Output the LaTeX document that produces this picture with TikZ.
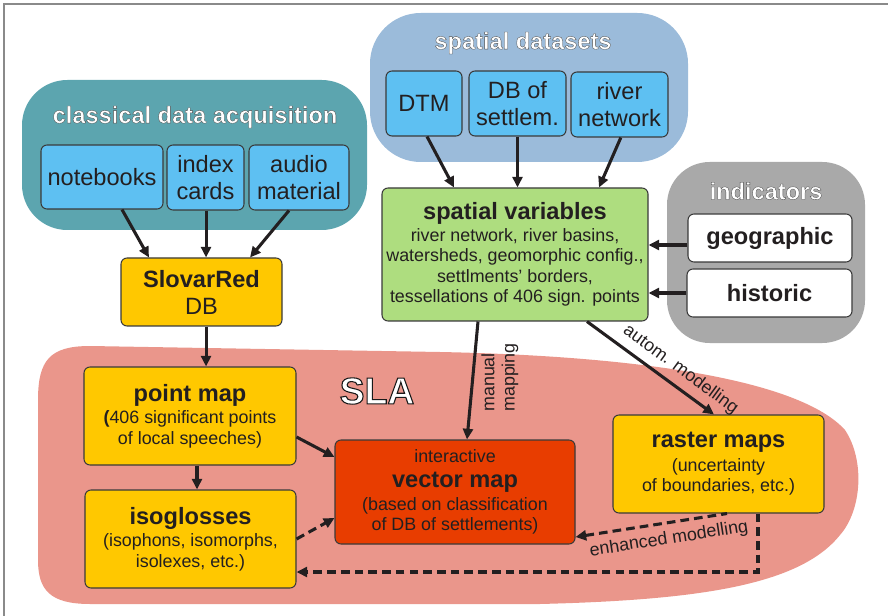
\documentclass[tikz,border=0pt]{standalone}
\usepackage{fontspec}
\setmainfont{Liberation Sans}
\usetikzlibrary{arrows.meta,calc}
\definecolor{tealc}{HTML}{5CA5AF}
\definecolor{skyc}{HTML}{9BBBDA}
\definecolor{grayc}{HTML}{A9A9A9}
\definecolor{pinkc}{HTML}{EA968B}
\definecolor{bluec}{HTML}{5EC0F2}
\definecolor{goldc}{HTML}{FFC800}
\definecolor{greenc}{HTML}{AEDD7F}
\definecolor{redc}{HTML}{E83D00}
\definecolor{bordc}{HTML}{3A3A3A}
\definecolor{arrc}{HTML}{231F20}
\definecolor{txtc}{HTML}{231F20}
\definecolor{framec}{HTML}{8A8A8A}
\newcommand\bigf{\fontsize{17.7}{20.3}\selectfont}
\newcommand\smallf{\fontsize{13.4}{15.2}\selectfont}
\newcommand\outltext[3]{\special{pdf:literal direct 2 Tr #1 w #2 G}#3\special{pdf:literal direct 0 Tr}}
\begin{document}
\begin{tikzpicture}[x=0.75pt,y=-0.75pt,
  box/.style={draw=bordc, line width=0.8pt, rounded corners=4.5pt, inner sep=0pt, align=center, text=txtc},
  sz/.style 2 args={minimum width=#1*0.75pt, minimum height=#2*0.75pt},
  arr/.style={draw=arrc, line width=2.3pt, -{Triangle[length=8pt,width=7.5pt]}},
  darr/.style={arr, dash pattern=on 6.5pt off 3.8pt},
  rdarr/.style={draw=arrc, line width=2.3pt, dash pattern=on 6.5pt off 3.8pt, {Triangle[length=8pt,width=7.5pt]}-},
  lbl/.style={font=\smallf, text=txtc, inner sep=1.5pt},
  gtitle/.style={font=\bigf\bfseries, text=white, inner sep=0pt}
]
\useasboundingbox (0,0) rectangle (888,616);
% frame
\draw[framec, line width=1.1pt] (888,4) -- (4,4) -- (4,616);
% blobs
\fill[tealc, rounded corners=34pt] (22,80) rectangle (367,230);
\fill[skyc, rounded corners=38pt] (370,13) rectangle (688,162);
\fill[grayc, rounded corners=32pt] (667,162) rectangle (865,343);
\fill[pinkc] (90,346) -- (440,352) .. controls (640,356) and (800,380) .. (845,430)
  .. controls (865,460) and (862,510) .. (840,535)
  .. controls (800,585) and (700,600) .. (540,604) -- (90,604)
  .. controls (50,604) and (38,590) .. (38,560) -- (38,400)
  .. controls (38,360) and (50,346) .. (90,346) -- cycle;
% titles
\node[gtitle] (tclass) at (195,117) {\outltext{0.25}{0.3}{classical data acquisition}};
\node[gtitle] (tspat) at (523,43) {\outltext{0.25}{0.3}{spatial datasets}};
\node[gtitle] (tind) at (766,191) {\outltext{0.25}{0.3}{indicators}};
\node[font=\fontsize{28}{30}\selectfont\bfseries, text=white, inner sep=0pt] (sla) at (377,391) {\outltext{0.8}{0.1}{SLA}};
% classical boxes
\node[box, fill=bluec, sz={122}{64}, font=\bigf] (notebooks) at (102,177) {notebooks};
\node[box, fill=bluec, sz={77}{65}, font=\bigf] (index) at (205.5,177.5) {index\\cards};
\node[box, fill=bluec, sz={100}{65}, font=\bigf] (audio) at (299,177.5) {audio\\material};
\node[box, fill=goldc, sz={161}{68}, font=\bigf] (slovar) at (201.5,292) {\bfseries SlovarRed\\DB};
% spatial datasets
\node[box, fill=bluec, sz={76}{65}, font=\bigf] (dtm) at (424,103.5) {DTM};
\node[box, fill=bluec, sz={97}{65}, font=\bigf] (dbs) at (517.5,103.5) {DB of\\settlem.};
\node[box, fill=bluec, sz={97}{65}, font=\bigf] (river) at (619.5,104.5) {river\\network};
\node[box, fill=greenc, sz={266}{133}, font=\smallf] (sv) at (515,254.5)
  {{\bigf\bfseries spatial variables}\\[1pt] river network, river basins,\\ watersheds, geomorphic config.,\\ settlments' borders,\\ tessellations of 406 sign. points};
% indicators
\node[box, fill=white, sz={164}{48}, font=\bigf\bfseries] (geo) at (770,238) {geographic};
\node[box, fill=white, sz={165}{48}, font=\bigf\bfseries] (hist) at (769.5,293) {historic};
% SLA boxes
\node[box, fill=goldc, sz={212}{98}, font=\smallf] (pointmap) at (190,416)
  {{\bigf\bfseries point map}\\[1.8pt] {\bfseries(}406 significant points\\ of local speeches)};
\node[box, fill=goldc, sz={211}{98}, font=\smallf] (iso) at (190.5,539)
  {{\bigf\bfseries isoglosses}\\[1.8pt] (isophons, isomorphs,\\ isolexes, etc.)};
\node[box, fill=redc, sz={240}{104}, font=\smallf] (vector) at (455,492)
  {interactive\\[3.8pt] {\bigf\bfseries vector map}\\[1.8pt] (based on classification\\ of DB of settlements)};
\node[box, fill=goldc, sz={211}{98}, font=\smallf] (raster) at (718.5,464)
  {{\bigf\bfseries raster maps}\\[2.5pt] (uncertainty\\ of boundaries, etc.)};
% arrows
\draw[arr] ([xshift=15pt]notebooks.south) -- ([xshift=-39.4pt]slovar.north);
\draw[arr] ([xshift=0.4pt]index.south) -- ([xshift=0.4pt]index.south |- slovar.north);
\draw[arr] ([xshift=-7.5pt]audio.south) -- ([xshift=36.4pt]slovar.north);
\draw[arr] ([xshift=3.4pt]slovar.south) -- ([xshift=3.4pt]slovar.south |- pointmap.north);
\draw[arr] ([xshift=5.25pt]pointmap.south) -- ([xshift=5.25pt]pointmap.south |- iso.north);
\draw[arr] ([yshift=-15.75pt]pointmap.east) -- ([yshift=26.25pt]vector.west);
\draw[darr] (iso.east) -- ([yshift=-19.5pt]vector.west);
\draw[arr] ([xshift=2.25pt]dtm.south) -- ([xshift=-45.75pt]sv.north);
\draw[arr] (dbs.south) -- (dbs.south |- sv.north);
\draw[arr] ([xshift=1pt]river.south) -- ([xshift=63pt]sv.north);
\draw[arr] ([yshift=-5.25pt]geo.west) -- ([yshift=-5.25pt]geo.west -| sv.east);
\draw[arr] (hist.west) -- (hist.west -| sv.east);
\draw[arr] ([xshift=-27.75pt]sv.south) -- node[lbl, pos=0.5, xshift=20.6pt, yshift=2.3pt, rotate=90, align=left] {manual\\mapping} ([xshift=9pt]vector.north);
\draw[arr] ([xshift=54pt]sv.south) -- node[lbl, pos=0.66, sloped, above=3.5pt] {autom. modelling} ([xshift=-3.4pt]raster.north);
\draw[rdarr] ([yshift=-33.75pt]vector.east) -- node[lbl, pos=0.6, sloped, below=3.5pt] {enhanced modelling} ([xshift=6.4pt]raster.south);
\draw[darr] ([xshift=29.6pt]raster.south) |- ([yshift=-24.75pt]iso.east);
\end{tikzpicture}
\end{document}
